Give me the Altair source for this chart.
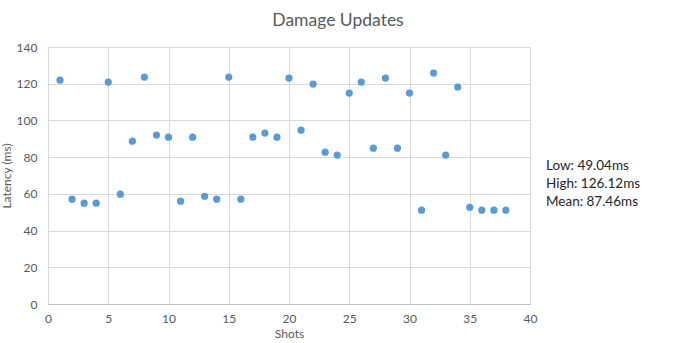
import altair as alt
import pandas as pd

shots = list(range(1, 39))
latency = [122.0, 57.1, 54.9, 54.9, 120.9, 59.8, 88.7, 123.6, 92.0, 90.9,
           56.0, 90.9, 58.7, 57.1, 123.6, 57.1, 90.9, 93.1, 90.9, 123.1,
           94.7, 119.8, 82.7, 81.1, 114.9, 120.9, 84.9, 123.1, 84.9, 114.9,
           51.1, 125.8, 81.1, 118.2, 52.7, 51.1, 51.1, 51.1]
stats_lines = ["Low: 49.04ms", "High: 126.12ms", "Mean: 87.46ms"]

df = pd.DataFrame({"Shots": shots, "Latency": latency})
FONT = "Lato"
GRAY = "#595959"

points = alt.Chart(df).mark_circle(size=52, color="#5B9BD5", opacity=1).encode(
    x=alt.X("Shots:Q", scale=alt.Scale(domain=[0, 40], nice=False),
            axis=alt.Axis(values=list(range(0, 41, 5)), title="Shots")),
    y=alt.Y("Latency:Q", scale=alt.Scale(domain=[0, 140], nice=False),
            axis=alt.Axis(values=list(range(0, 141, 20)), title="Latency (ms)")),
)

note = alt.Chart(pd.DataFrame({"a": [0]})).mark_text(
    text=stats_lines, align="left", baseline="middle", font=FONT,
    fontSize=13.5, lineHeight=18, color="#262626"
).encode(x=alt.value(498), y=alt.value(119))

chart = alt.layer(points, note).properties(
    width=482, height=257,
    padding={"left": 48, "top": 47, "right": 147, "bottom": 39},
    autosize=alt.AutoSizeParams(type="none"),
    title=alt.TitleParams("Damage Updates", font=FONT, fontSize=17.5,
                          fontWeight="normal", color=GRAY, anchor="middle",
                          dx=49, offset=12),
).configure_view(stroke=None).configure_axis(
    gridColor="#d9d9d9", ticks=False, domain=False, labelFont=FONT,
    labelFontSize=12, labelColor=GRAY, titleFont=FONT, titleFontSize=12,
    titleColor=GRAY, titleFontWeight="normal", labelFlush=False,
    labelOverlap=False,
).configure_axisX(
    domain=True, domainColor="#bfbfbf", labelPadding=9, titlePadding=4,
).configure_axisY(
    labelPadding=11, titlePadding=3,
)

chart.save("out.html", embed_options={"renderer": "svg", "actions": False})
